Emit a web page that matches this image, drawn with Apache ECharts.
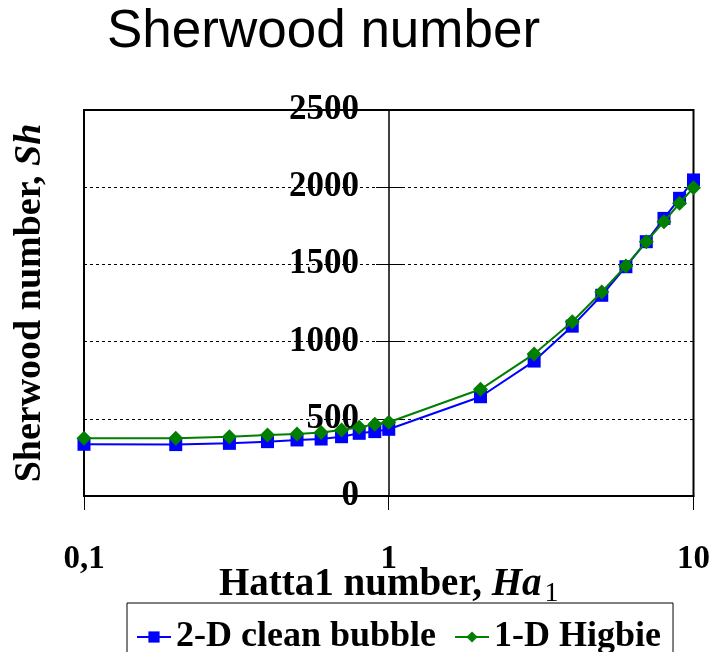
<!DOCTYPE html>
<html>
<head>
<meta charset="utf-8">
<title>Sherwood number</title>
<script src="https://cdn.jsdelivr.net/npm/echarts@6/dist/echarts.min.js"></script>
<style>
html,body{margin:0;padding:0;background:#fff;}
#chart{width:713px;height:652px;}
</style>
</head>
<body>
<div id="chart"></div>
<script>
// Hatta number (log axis) and Sherwood numbers
var hatta = [0.1, 0.2, 0.3, 0.4, 0.5, 0.6, 0.7, 0.8, 0.9, 1, 2, 3, 4, 5, 6, 7, 8, 9, 10];
var cleanBubble = [335, 333, 341, 352, 363, 369, 384, 406, 417, 432, 643, 874, 1100, 1300, 1485, 1647, 1798, 1928, 2047];
var higbie = [374, 374, 384, 395, 401, 412, 427, 445, 464, 478, 691, 920, 1129, 1321, 1490, 1647, 1777, 1896, 1997];
var seriesNames = ['2-D clean bubble', '1-D Higbie'];
var yTicks = [0, 500, 1000, 1500, 2000, 2500];

var serif = '"Liberation Serif", "Times New Roman", serif';

function pairs(xs, ys) {
  var out = [];
  for (var i = 0; i < xs.length; i++) out.push([xs[i], ys[i]]);
  return out;
}

var myChart = echarts.init(document.getElementById('chart'), null, {renderer: 'canvas'});

var option = {
  animation: false,
  backgroundColor: '#fff',
  title: {
    text: 'Sherwood number',
    left: 107,
    top: 6,
    padding: 0,
    textStyle: {
      fontFamily: '"Liberation Sans", Arial, sans-serif',
      fontWeight: 'normal',
      fontSize: 53,
      color: '#000'
    }
  },
  legend: {
    data: seriesNames,
    left: 127,
    top: 603,
    padding: [16, 12, 16, 9],
    itemGap: 18,
    itemWidth: 34,
    itemHeight: 14,
    borderColor: '#000',
    borderWidth: 1,
    borderRadius: 0,
    backgroundColor: '#fff',
    textStyle: {
      fontFamily: serif,
      fontWeight: 'bold',
      fontSize: 36,
      color: '#000'
    }
  },
  grid: {
    left: 84,
    right: 19,
    top: 110,
    bottom: 156,
    show: true,
    borderColor: '#000',
    borderWidth: 2,
    containLabel: false
  },
  xAxis: {
    type: 'log',
    logBase: 10,
    min: 0.1,
    max: 10,
    name: '{b|Hatta1 number, }{i|Ha}{s|1}',
    nameLocation: 'middle',
    nameGap: 66,
    nameMoveOverlap: false,
    nameTextStyle: {
      rich: {
        b: {fontFamily: serif, fontWeight: 'bold', fontSize: 39, color: '#000'},
        i: {fontFamily: serif, fontWeight: 'bold', fontStyle: 'italic', fontSize: 39, color: '#000'},
        s: {fontFamily: serif, fontWeight: 'normal', fontSize: 28, color: '#000', padding: [18, 0, 0, 3]}
      }
    },
    axisLine: {show: true, lineStyle: {color: '#000', width: 2}},
    axisTick: {show: true, length: 14, lineStyle: {color: '#000', width: 1}},
    minorTick: {show: false},
    splitLine: {show: false},
    axisLabel: {
      margin: 47,
      fontFamily: serif,
      fontWeight: 'bold',
      fontSize: 33,
      color: '#000',
      formatter: function (v) {
        if (v < 1) return v.toFixed(1).replace('.', ',');
        return String(Math.round(v));
      }
    }
  },
  yAxis: [{
    type: 'value',
    position: 'left',
    offset: -305,
    min: yTicks[0],
    max: yTicks[yTicks.length - 1],
    interval: 500,
    name: '{b|Sherwood number, }{i|Sh}',
    nameLocation: 'middle',
    nameGap: 340,
    nameMoveOverlap: false,
    nameTextStyle: {
      rich: {
        b: {fontFamily: serif, fontWeight: 'bold', fontSize: 38, color: '#000'},
        i: {fontFamily: serif, fontWeight: 'bold', fontStyle: 'italic', fontSize: 38, color: '#000'}
      }
    },
    axisLine: {show: true, lineStyle: {color: '#000', width: 1.5}},
    axisTick: {show: true, length: 13, lineStyle: {color: '#000', width: 1}},
    splitLine: {show: true, lineStyle: {color: '#000', width: 1, type: [3, 3]}},
    axisLabel: {
      margin: 30,
      fontFamily: serif,
      fontWeight: 'bold',
      fontSize: 35,
      color: '#000',
      formatter: function (v) {
        return String(v);
      }
    }
  }, {
    // second copy only to give the crossing ticks on the inner side
    type: 'value',
    position: 'left',
    offset: -305,
    min: yTicks[0],
    max: yTicks[yTicks.length - 1],
    interval: 500,
    axisLine: {show: false},
    axisTick: {show: true, inside: true, length: 13, lineStyle: {color: '#000', width: 1}},
    splitLine: {show: false},
    axisLabel: {show: false}
  }],
  series: [{
    name: seriesNames[0],
    type: 'line',
    data: pairs(hatta, cleanBubble),
    symbol: 'rect',
    symbolSize: 13,
    lineStyle: {color: '#0000ff', width: 2},
    itemStyle: {color: '#0000ff'},
    z: 2
  }, {
    name: seriesNames[1],
    type: 'line',
    data: pairs(hatta, higbie),
    symbol: 'diamond',
    symbolSize: 15,
    lineStyle: {color: '#007f00', width: 2},
    itemStyle: {color: '#007f00'},
    z: 3
  }]
};

myChart.setOption(option);
window.addEventListener('resize', function () {
  myChart.resize();
});
</script>
</body>
</html>
